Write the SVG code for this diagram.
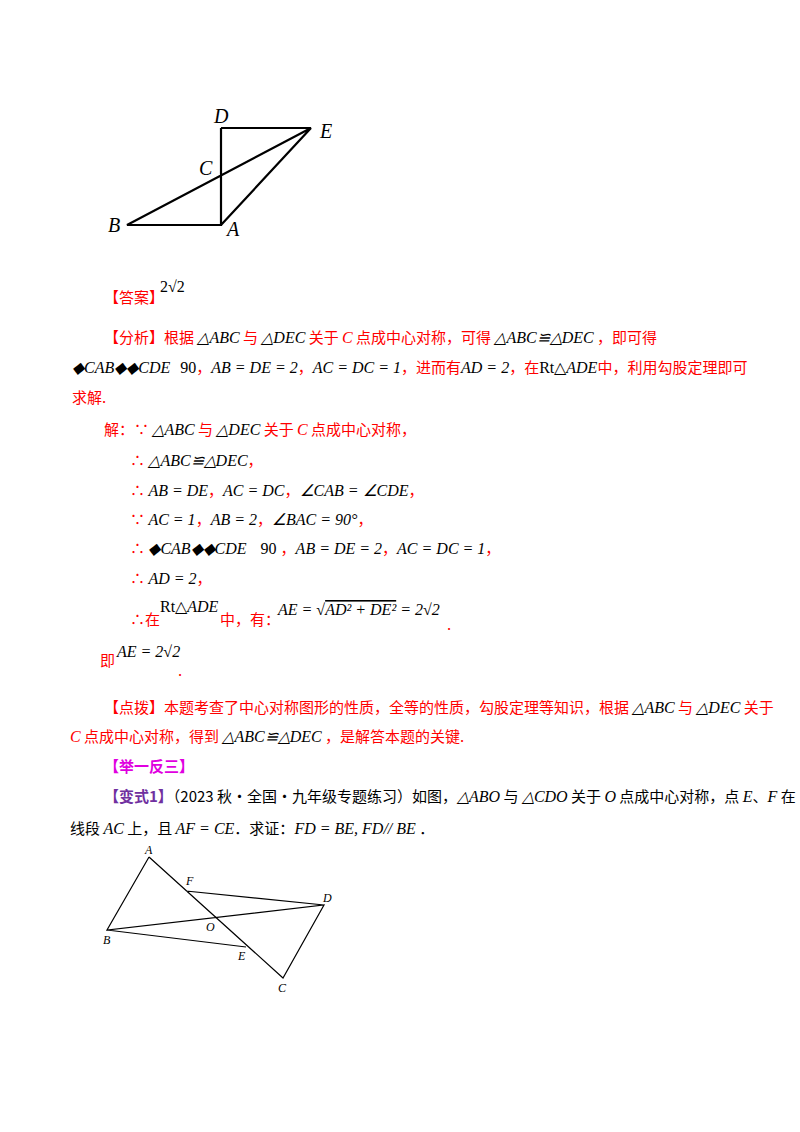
<svg xmlns="http://www.w3.org/2000/svg" width="800" height="1132" viewBox="0 0 800 1132">
<style>
.r{fill:#ff0000;font-family:"Noto Sans CJK SC",sans-serif;font-size:15px}
.k{fill:#000;font-family:"Noto Sans CJK SC",sans-serif;font-size:15px}
.m{fill:#000;font-family:"Liberation Serif",serif;font-size:16px;font-style:italic}
.mr{fill:#ff0000;font-family:"Liberation Serif",serif;font-size:16px;font-style:italic}
.n{fill:#000;font-family:"Liberation Serif",serif;font-size:16px}
.p{fill:#e000e0;font-family:"Noto Sans CJK SC",sans-serif;font-size:15px;font-weight:bold}
.v{fill:#7030a0;font-family:"Noto Sans CJK SC",sans-serif;font-size:15px;font-weight:bold}
.L{fill:#000;font-family:"Liberation Serif",serif;font-size:20px;font-style:italic}
.l{fill:#000;font-family:"Liberation Serif",serif;font-size:12px;font-style:italic}
.g{fill:none;stroke:#000;stroke-width:2.2}
.g2{fill:none;stroke:#000;stroke-width:1.2}
</style>
<g id="fig1">
<path class="g" d="M221,128 V225 H127 L311,128 H221 M221,225 L311,128"/>
<text class="L" x="214" y="123">D</text>
<text class="L" x="320" y="138">E</text>
<text class="L" x="199" y="175">C</text>
<text class="L" x="108" y="232">B</text>
<text class="L" x="227" y="236">A</text>
</g>
<g id="text1">
<text class="r" x="104" y="303">【答案】</text>
<text class="n" x="160" y="292" font-size="14">2√2</text>
<text x="104" y="343"><tspan class="r">【分析】根据 </tspan><tspan class="m" font-size="14">△ABC</tspan><tspan class="r"> 与 </tspan><tspan class="m" font-size="14">△DEC</tspan><tspan class="r"> 关于 </tspan><tspan class="mr">C</tspan><tspan class="r"> 点成中心对称，可得 </tspan><tspan class="m" font-size="11">△ABC≌△DEC</tspan><tspan class="r"> ，即可得</tspan></text>
<text x="72" y="373"><tspan class="m" font-size="15">◆CAB◆◆CDE</tspan><tspan class="n" dx="10" font-size="15">90</tspan><tspan class="r">，</tspan><tspan class="m" font-size="15">AB = DE = 2</tspan><tspan class="r">，</tspan><tspan class="m" font-size="15">AC = DC = 1</tspan><tspan class="r">，进而有</tspan><tspan class="m" font-size="15">AD = 2</tspan><tspan class="r">，在</tspan><tspan class="n" font-size="15">Rt△</tspan><tspan class="m" font-size="15">ADE</tspan><tspan class="r">中，利用勾股定理即可</tspan></text>
<text class="r" x="72" y="403">求解.</text>
<text x="104" y="435"><tspan class="r">解：∵ </tspan><tspan class="m" font-size="14">△ABC</tspan><tspan class="r"> 与 </tspan><tspan class="m" font-size="14">△DEC</tspan><tspan class="r"> 关于 </tspan><tspan class="mr">C</tspan><tspan class="r"> 点成中心对称，</tspan></text>
<text x="130" y="466"><tspan class="r">∴ </tspan><tspan class="m" font-size="11">△ABC≌△DEC</tspan><tspan class="r">，</tspan></text>
<text x="130" y="496"><tspan class="r">∴ </tspan><tspan class="m">AB = DE</tspan><tspan class="r">，</tspan><tspan class="m">AC = DC</tspan><tspan class="r">，</tspan><tspan class="m">∠CAB = ∠CDE</tspan><tspan class="r">，</tspan></text>
<text x="130" y="525"><tspan class="r">∵ </tspan><tspan class="m">AC = 1</tspan><tspan class="r">，</tspan><tspan class="m">AB = 2</tspan><tspan class="r">，</tspan><tspan class="m">∠BAC = 90°</tspan><tspan class="r">，</tspan></text>
<text x="130" y="554"><tspan class="r">∴ </tspan><tspan class="m">◆CAB◆◆CDE</tspan><tspan class="n" dx="14">90 </tspan><tspan class="r">，</tspan><tspan class="m">AB = DE = 2</tspan><tspan class="r">，</tspan><tspan class="m">AC = DC = 1</tspan><tspan class="r">，</tspan></text>
<text x="130" y="584"><tspan class="r">∴ </tspan><tspan class="m">AD = 2</tspan><tspan class="r">，</tspan></text>
<text class="r" x="130" y="625">∴在</text>
<text x="160" y="612"><tspan class="n">Rt△</tspan><tspan class="m">ADE</tspan></text>
<text class="r" x="220" y="625">中，有：</text>
<text class="m" x="278" y="615" font-size="15">AE = √<tspan text-decoration="overline">AD² + DE²</tspan> = 2√2</text>
<text class="r" x="447" y="630">.</text>
<text class="r" x="100" y="666">即</text>
<text class="m" x="117" y="657">AE = 2√2</text>
<text class="r" x="178" y="676">.</text>
<text x="104" y="713"><tspan class="r">【点拨】本题考查了中心对称图形的性质，全等的性质，勾股定理等知识，根据 </tspan><tspan class="m" font-size="14">△ABC</tspan><tspan class="r"> 与 </tspan><tspan class="m" font-size="14">△DEC</tspan><tspan class="r"> 关于</tspan></text>
<text x="70" y="742"><tspan class="mr">C</tspan><tspan class="r"> 点成中心对称，得到 </tspan><tspan class="m" font-size="11">△ABC≌△DEC</tspan><tspan class="r"> ，是解答本题的关键.</tspan></text>
<text class="p" x="104" y="772">【举一反三】</text>
<text x="104" y="802"><tspan class="v">【变式1】</tspan><tspan class="k">（2023 秋·全国·九年级专题练习）如图，</tspan><tspan class="m" font-size="14">△ABO</tspan><tspan class="k"> 与 </tspan><tspan class="m" font-size="14">△CDO</tspan><tspan class="k"> 关于 </tspan><tspan class="m">O</tspan><tspan class="k"> 点成中心对称，点 </tspan><tspan class="m">E</tspan><tspan class="k">、</tspan><tspan class="m">F</tspan><tspan class="k"> 在</tspan></text>
<text x="70" y="834"><tspan class="k">线段 </tspan><tspan class="m" font-size="14">AC</tspan><tspan class="k"> 上，且 </tspan><tspan class="m" font-size="14">AF = CE</tspan><tspan class="k">．求证：</tspan><tspan class="m" font-size="14">FD = BE, FD// BE</tspan><tspan class="k"> ．</tspan></text>
</g>
<g id="fig2">
<path class="g2" d="M149,857 L107,930 L324,905 L283,978 L149,857 M186,891 L324,905 M107,930 L246,947"/>
<text class="l" x="145" y="854">A</text>
<text class="l" x="186" y="885">F</text>
<text class="l" x="323" y="902">D</text>
<text class="l" x="206" y="931">O</text>
<text class="l" x="103" y="944">B</text>
<text class="l" x="238" y="960">E</text>
<text class="l" x="278" y="992">C</text>
</g>
</svg>
